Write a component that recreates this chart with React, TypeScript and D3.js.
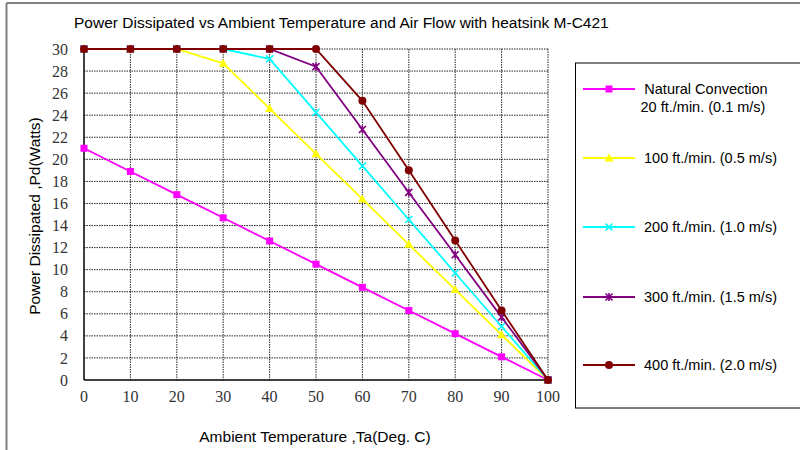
import React from "react";
import * as d3 from "d3";

const temps = [0, 10, 20, 30, 40, 50, 60, 70, 80, 90, 100];
const natural = [21, 18.9, 16.8, 14.7, 12.6, 10.5, 8.4, 6.3, 4.2, 2.1, 0];
const flow100 = [30, 30, 30, 28.7, 24.6, 20.5, 16.4, 12.3, 8.2, 4.1, 0];
const flow200 = [30, 30, 30, 30, 29.1, 24.25, 19.4, 14.55, 9.7, 4.85, 0];
const flow300 = [30, 30, 30, 30, 30, 28.4, 22.7, 17.0, 11.35, 5.7, 0];
const flow400 = [30, 30, 30, 30, 30, 30, 25.3, 19.0, 12.65, 6.3, 0];
const yTicks = [0, 2, 4, 6, 8, 10, 12, 14, 16, 18, 20, 22, 24, 26, 28, 30];
const xTicks = [0, 10, 20, 30, 40, 50, 60, 70, 80, 90, 100];

type Marker = "square" | "triangle" | "x" | "star" | "circle";
const seriesList: { name: string[]; values: number[]; color: string; marker: Marker }[] = [
  { name: ["Natural Convection", "20 ft./min. (0.1 m/s)"], values: natural, color: "#FF00FF", marker: "square" },
  { name: ["100 ft./min. (0.5 m/s)"], values: flow100, color: "#FFFF00", marker: "triangle" },
  { name: ["200 ft./min. (1.0 m/s)"], values: flow200, color: "#00FFFF", marker: "x" },
  { name: ["300 ft./min. (1.5 m/s)"], values: flow300, color: "#800080", marker: "star" },
  { name: ["400 ft./min. (2.0 m/s)"], values: flow400, color: "#800000", marker: "circle" },
];

const legendY = [89, 158, 227, 297, 365];

function MarkerShape({ type, x, y, color }: { type: Marker; x: number; y: number; color: string }) {
  switch (type) {
    case "square":
      return <rect x={x - 3.5} y={y - 3.5} width={7} height={7} fill={color} />;
    case "triangle":
      return <path d={`M${x},${y - 4.5}L${x + 4.5},${y + 3.5}L${x - 4.5},${y + 3.5}Z`} fill={color} />;
    case "x":
      return (
        <path d={`M${x - 3.5},${y - 3.5}L${x + 3.5},${y + 3.5}M${x + 3.5},${y - 3.5}L${x - 3.5},${y + 3.5}`} stroke={color} strokeWidth={1.6} />
      );
    case "star":
      return (
        <path
          d={`M${x - 3.5},${y - 3.5}L${x + 3.5},${y + 3.5}M${x + 3.5},${y - 3.5}L${x - 3.5},${y + 3.5}M${x},${y - 4}L${x},${y + 4}`}
          stroke={color}
          strokeWidth={1.6}
        />
      );
    case "circle":
      return <circle cx={x} cy={y} r={4} fill={color} />;
  }
}

export default function App() {
  const W = 800;
  const H = 450;
  const left = 84;
  const right = 548;
  const top = 49;
  const bottom = 380;
  const x = d3.scaleLinear().domain([0, 100]).range([left, right]);
  const y = d3.scaleLinear().domain([0, 30]).range([bottom, top]);
  const line = d3
    .line<number>()
    .x((_, i) => x(temps[i]))
    .y((d) => y(d));

  const sans = "'Liberation Sans', Arial, sans-serif";
  const serif = "'Liberation Serif', 'Times New Roman', serif";

  return (
    <svg width={W} height={H} style={{ position: "absolute", left: 0, top: 0, background: "#fff" }}>
      <rect x={0} y={0} width={W} height={H} fill="#fff" />
      {/* outer frame */}
      <line x1={6.5} y1={3} x2={W} y2={3} stroke="#808080" strokeWidth={2} />
      <line x1={6.5} y1={3} x2={6.5} y2={H} stroke="#808080" strokeWidth={2} />

      <text x={74} y={28} fontFamily={sans} fontSize={15.5} fill="#000">
        Power Dissipated vs Ambient Temperature and Air Flow with heatsink M-C421
      </text>

      {/* grid */}
      {yTicks.filter((t) => t > 0).map((t) => (
        <line key={"gy" + t} x1={left} x2={right} y1={y(t)} y2={y(t)} stroke="#000" strokeWidth={1} strokeDasharray="1.5,1" opacity={0.85} />
      ))}
      {xTicks.filter((t) => t > 0).map((t) => (
        <line key={"gx" + t} x1={x(t)} x2={x(t)} y1={top} y2={bottom} stroke="#000" strokeWidth={1} strokeDasharray="1.5,1" opacity={0.85} />
      ))}
      <line x1={left} x2={left} y1={top} y2={bottom} stroke="#000" strokeWidth={1.5} />
      <line x1={left} x2={right} y1={bottom} y2={bottom} stroke="#000" strokeWidth={1.5} />

      {yTicks.map((t) => (
        <text key={"ty" + t} x={68} y={y(t)} dy="0.35em" textAnchor="end" fontFamily={serif} fontSize={16} fill="#333">
          {t}
        </text>
      ))}
      {xTicks.map((t) => (
        <text key={"tx" + t} x={x(t)} y={402} textAnchor="middle" fontFamily={serif} fontSize={16} fill="#333">
          {t}
        </text>
      ))}

      <text x={315} y={442} textAnchor="middle" fontFamily={sans} fontSize={15.5} fill="#000">
        Ambient Temperature ,Ta(Deg. C)
      </text>
      <text
        transform={`translate(40,216) rotate(-90)`}
        textAnchor="middle"
        fontFamily={sans}
        fontSize={15.5}
        fill="#000"
      >
        Power Dissipated ,Pd(Watts)
      </text>

      {seriesList.map((s) => (
        <g key={s.color}>
          <path d={line(s.values) || ""} fill="none" stroke={s.color} strokeWidth={1.8} />
          {s.values.map((v, i) => (
            <MarkerShape key={i} type={s.marker} x={x(temps[i])} y={y(v)} color={s.color} />
          ))}
        </g>
      ))}

      {/* legend */}
      <rect x={575.5} y={63} width={240} height={345} fill="#fff" stroke="#000" strokeWidth={1} />
      {seriesList.map((s, i) => {
        const ly = legendY[i];
        return (
          <g key={"lg" + i}>
            <line x1={583} x2={635} y1={ly} y2={ly} stroke={s.color} strokeWidth={1.8} />
            <MarkerShape type={s.marker} x={609} y={ly} color={s.color} />
            {s.name.length === 2 ? (
              <text fontFamily={sans} fontSize={14.5} fill="#000" textAnchor="middle">
                <tspan x={706} y={ly + 5}>{s.name[0]}</tspan>
                <tspan x={703} y={ly + 23}>{s.name[1]}</tspan>
              </text>
            ) : (
              <text x={644} y={ly + 5} fontFamily={sans} fontSize={14.5} fill="#000">
                {s.name[0]}
              </text>
            )}
          </g>
        );
      })}
    </svg>
  );
}
